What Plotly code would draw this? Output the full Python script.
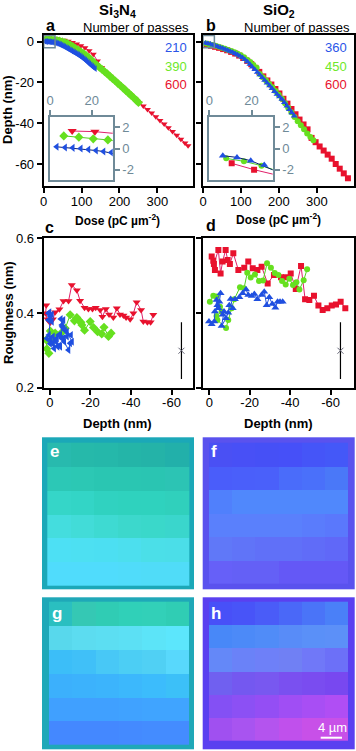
import plotly.graph_objects as go

W, H = 356, 751

# ---------- panel a: Si3N4 depth vs dose ----------
a_blue_dose = [3.2,7.2,10.9,14.7,18.4,22,25.6,29.3,33,36.7,40.4,44,47.7,51.4,55,58.7,62.4,66,69.7,73.4,77,80.7,84.4,88,91.7,95.4,99,102.7,106.4,110,113.7,117.4,121,124.7,128.4,132,135.7]
a_blue_depth = [.16,.09,.06,0,-.09,-.19,-.28,-.37,-.6,-.8,-1.1,-1.4,-1.7,-2.1,-2.4,-2.8,-3.2,-3.6,-4,-4.4,-4.8,-5.2,-5.6,-6,-6.4,-6.9,-7.4,-7.9,-8.4,-9,-9.6,-10.2,-10.8,-11.4,-12,-12.6,-13.2]
a_green_dose = [6.6,13.8,20.7,27.7,35,42,49,56,63,70,77,84,91,98,105,112,119,126,133,140,147,154,161,168,175,182,189,196,203,210,217,224,231,238,245,250]
a_green_depth = [1.19,1.07,.91,.81,.6,.3,0,-.4,-.9,-1.6,-2.4,-3.3,-4.1,-5,-5.8,-6.8,-7.8,-9,-10.3,-11.5,-12.5,-13.6,-14.7,-15.8,-17,-18.2,-19.3,-20.5,-21.6,-22.8,-24,-25.2,-26.4,-27.6,-28.8,-29.8]
a_red_dose = [10.6,21.5,32,43,54,65,76,87,98,109,120,131,142,153,164,175,186,197,208,219,230,241,252,263,274,285,296,307,318,329,340,351,362,373,381]
a_red_depth = [1.65,1.59,1.4,1.1,.7,.2,-.4,-1.1,-2,-3,-4.4,-6.2,-9.5,-12.6,-15.2,-17,-18.9,-20.6,-22.4,-24.3,-26.1,-28,-30,-31.6,-33.3,-35,-36.8,-38.6,-40.4,-42.2,-44,-45.9,-47.8,-49.7,-51]

# ---------- panel b: SiO2 depth vs dose ----------
b_blue_dose = [6.4,13.1,19.6,26,32.5,39,45.5,52,58.5,65,71.5,78,84.5,91,97.5,104,110.5,117,123.5,130,136.5,143,149.5,156,162.5,169,175.5,182,188.5,195,201.5,208,214.5,221,227.5,234,240.5]
b_blue_depth = [-.68,-.84,-1.15,-1.55,-2,-2.4,-2.8,-3.2,-3.7,-4.2,-4.7,-5.2,-5.8,-6.4,-7,-7.7,-8.7,-9.8,-11,-12.4,-13.6,-15,-16.2,-17.6,-18.9,-20.2,-21.6,-23,-24.4,-25.8,-27,-28.2,-29.8,-31.5,-33.2,-34.8,-36.5]
b_green_dose = [8,16.4,24.7,33,41.3,49.6,58,66.3,74.6,83,91.3,99.6,108,116.3,124.6,133,141.3,149.6,158,166.3,174.6,183,191.3,199.6,208,216.3,224.6,233,241.3,249.6,258,266.3,274.6,283,291]
b_green_depth = [-.93,-1.21,-1.62,-2,-2.5,-3,-3.5,-4,-4.6,-5.2,-5.9,-6.6,-7.6,-8.8,-10,-11.4,-12.8,-15.8,-17.4,-19,-20.8,-22.4,-24.2,-26,-28,-30.2,-32.4,-34.6,-36.9,-39,-41,-43,-45,-46.8,-48.4]
b_red_dose = [10.6,21.2,31.8,42.4,53,63.6,74.2,84.8,95.4,106,116.6,127.2,137.8,148.4,159,169.6,180.2,190.8,201.4,212,222.6,233.2,243.8,254.4,265,275.6,286.2,296.8,307.4,318,328.6,339.2,349.8,360.4,371,382]
b_red_depth = [-1.4,-2,-2.5,-3,-3.6,-4.2,-5,-5.8,-6.8,-8,-9.4,-11,-12.8,-14.8,-17,-19,-21,-23.2,-25.4,-28,-30.4,-33,-35.6,-38.2,-40.6,-43,-47.2,-49.3,-51.4,-53.4,-55.4,-57.4,-60,-62.3,-64.6,-67]

# ---------- panel c: Si3N4 roughness vs depth ----------
c_red_depth = [1.8,2.1,1.2,-.1,-1.5,-2.6,-4.7,-6.7,-9.2,-10.8,-13.3,-14.9,-17.1,-19,-21,-22.6,-24.8,-25.9,-27.6,-29.2,-31.3,-33,-34.6,-36.3,-37.6,-39.6,-41.2,-42.8,-45,-46.1,-48.1,-49.7,-51]
c_red_rough = [.421,.399,.383,.374,.383,.402,.41,.432,.432,.475,.461,.433,.414,.411,.411,.414,.408,.39,.411,.396,.388,.413,.396,.393,.388,.383,.399,.429,.408,.377,.375,.375,.395]
c_green_depth = [.5,1.5,1.8,-.2,-1,-2.6,-5.9,-7.6,-10,-12.1,-13.3,-14.1,-15.3,-15.8,-17.1,-19.9,-21.5,-23.5,-25.6,-26.7,-28.9,-30.2]
c_green_rough = [.292,.304,.328,.352,.323,.346,.348,.359,.395,.379,.388,.381,.375,.368,.354,.377,.361,.35,.344,.362,.337,.346]
c_blue_depth = [.2,-1,.7,-.1,.7,-1,-.2,.5,1.5,-.1,-.2,-1.2,-2.1,-2.6,-3.8,-4.8,-5.1,-3.1,-1.5,-3.5,-4.3,-5.1,-6.1,-5.4,-6.7,-5.9,-7.5,-6.8,-8.4,-10.4,-8.4,-10.9,-10,-9.2,-7.1,-6.7,-5.9]
c_blue_rough = [.402,.396,.399,.392,.381,.377,.384,.341,.332,.318,.33,.319,.305,.328,.31,.313,.31,.323,.337,.332,.341,.341,.363,.384,.381,.368,.354,.359,.337,.341,.35,.323,.319,.301,.323,.332,.332]

# ---------- panel d: SiO2 roughness vs depth ----------
d_red_depth = [-1.2,-2,-2.8,-2.3,-4.5,-5.6,-6.6,-8.1,-9.1,-10.2,-11.9,-14.4,-17.3,-19.3,-21.5,-23.8,-25.9,-28.9,-32,-35.5,-38,-40.3,-42.8,-45.4,-47.4,-49.5,-51.8,-54,-56.1,-58.4,-60.6,-62.7,-65,-67.3]
d_red_rough = [.551,.54,.515,.531,.569,.506,.538,.569,.542,.531,.56,.515,.521,.538,.52,.515,.524,.479,.502,.496,.496,.506,.464,.526,.437,.435,.446,.42,.408,.413,.42,.423,.43,.413]
d_green_depth = [-.3,-2,-3.6,-5.3,-6.1,-3.6,-4,-8.3,-9.4,-11.1,-12.4,-15.2,-17.2,-18.8,-20.5,-22.6,-24.6,-26.6,-28.6,-30.5,-32.4,-34.2,-36,-37.8,-39.6,-41.4,-43.1,-44.6,-46.7,-48.4]
d_green_rough = [.43,.446,.444,.417,.404,.392,.381,.36,.381,.4125,.437,.469,.466,.508,.495,.503,.486,.487,.533,.521,.507,.502,.486,.476,.492,.475,.482,.463,.4875,.517]
d_blue_depth = [.15,-1.2,-2.5,-2.8,-4,-3.6,-5.6,-5,-4.5,-6.6,-7.3,-6.1,-8.3,-9.4,-9.9,-11.6,-10.6,-12.7,-14.9,-16.5,-18.2,-19.3,-21,-22.3,-23.8,-25.9,-27.2,-28.4,-29.7,-31.2,-32.7,-33.8,-35,-36.3]
d_blue_rough = [.377,.37,.377,.404,.421,.435,.453,.43,.4125,.395,.404,.365,.386,.401,.421,.4125,.4375,.437,.442,.453,.463,.448,.4455,.451,.437,.448,.457,.421,.442,.424,.414,.43,.43,.43]

err_depth = [-64.9]
err_rough = [.299]
err_size = [.076]

# ---------- tick labels and legends ----------
dose_ticks = [0, 100, 200, 300]
dose_labels = ["0", "100", "200", "300"]
depth_ticks = [0, -20, -40, -60]
depth_labels = ["0", "-20", "-40", "-60"]
rough_ticks = [.2, .4, .6]
rough_labels = ["0.2", "0.4", "0.6"]
inset_x_ticks = [0, 20]
inset_x_labels = ["0", "20"]
inset_y_ticks = [2, 0, -2]
inset_y_labels = ["2", "0", "-2"]
a_passes = ["210", "390", "600"]
b_passes = ["360", "450", "600"]

# ---------- micrograph cells (top row first) ----------
frame_e = "#1ba8b8"
frame_f = "#5a52ee"
frame_g = "#1fa8b8"
frame_h = "#5a40f0"
cells_e = [["#28baae","#26b9aa","#25b8aa","#24b5a8","#24b3a8","#22b0aa"],
           ["#2cc8b6","#2cc8b4","#2ac6b2","#2ac6b2","#2ac5b2","#2cc4b4"],
           ["#35d6c8","#33d5c6","#30d2c0","#2fd2be","#2fd2be","#30d0bc"],
           ["#44ddde","#42dcd8","#3edad2","#3cd8cc","#3ad8ca","#3ad6cc"],
           ["#4de0f4","#4de0f2","#4cdff2","#4cdfee","#4bdfe8","#4bdee8"],
           ["#50dcfc","#50dcfc","#50dcfc","#50dcfa","#50dcf8","#50dcf8"]]
cells_f = [["#4a50f4","#4850f6","#4650f6","#4650f8","#4555f8","#4458f8"],
           ["#4a5dfa","#4a5ffa","#4a60fa","#4a6cfa","#4a70fa","#4a78f8"],
           ["#5080fc","#5088fc","#5088fc","#5088fc","#5088fc","#5088fc"],
           ["#5a80fc","#5a80fc","#5a80fc","#5a80fc","#5a7cfc","#5a78fc"],
           ["#6078f8","#6074f8","#6070f8","#6070f8","#606cf8","#6068f8"],
           ["#6660f8","#6460f6","#6460f6","#6458f6","#6458f6","#6458f6"]]
cells_g = [["#2abfc0","#35c8b4","#30ccb4","#30d0b8","#32d0b8","#30cdb4"],
           ["#58d8ec","#5cdcf0","#5cdef2","#5ce0f4","#5ce4f8","#5ce6fc"],
           ["#3cbef8","#40c0f8","#48c8f6","#4ccef4","#50d0f4","#58d8fc"],
           ["#3cb0fc","#3cb2fc","#3cb4fc","#3cb8fc","#3cbcfc","#3cc0f8"],
           ["#40a0ff","#40a0ff","#40a0ff","#40a2ff","#40a4ff","#40a4ff"],
           ["#4488ff","#4488ff","#4488ff","#448aff","#448cff","#448cff"]]
cells_h = [["#4850f8","#4854f8","#4a5cf8","#4a68f8","#4a74f8","#4a80f8"],
           ["#4888f8","#4c8af8","#508cf8","#588cf8","#5a90f8","#5c90f8"],
           ["#6488f8","#6a82f8","#6e80f8","#7080f4","#7078f8","#6c70f8"],
           ["#7060f0","#7458f0","#7858f0","#7a50f0","#7a4cf0","#7848f0"],
           ["#8450f4","#8c50f4","#944ef4","#a04ef4","#a84ef4","#b04ef4"],
           ["#a050f0","#a854f0","#b454ee","#c050ec","#c850e8","#c850e8"]]

RED, GREEN, BLUE = "#e8112d", "#66e01f", "#1f4fe0"
REDL, GREENL, BLUEL = "#e0206a", "#50d020", "#0a1f70"
SLATE = "#6f8a98"
FONT = "Liberation Sans"


def dx(l, r):
    return [l / W, r / W]


def dy(t, b):
    return [1 - b / H, 1 - t / H]


def rgb(c):
    return [int(c[1:3], 16), int(c[3:5], 16), int(c[5:7], 16)]


fig = go.Figure()
layout = {}

main_axis = dict(showline=True, linewidth=2, linecolor="black", mirror=True, ticks="outside",
                 ticklen=5, tickwidth=1.5, tickcolor="black", showgrid=False, zeroline=False,
                 tickfont=dict(size=13, color="black", family=FONT))
inset_axis = dict(showline=True, linewidth=2, linecolor=SLATE, mirror=True, ticks="outside",
                  ticklen=5, tickwidth=1.5, tickcolor=SLATE, showgrid=False, zeroline=False,
                  tickfont=dict(size=13, color=SLATE, family=FONT))


def axes(i, xdom, ydom, xrange, yrange, xt, xl, yt, yl, style, xside="bottom", yside="left", showy=True, standoff=0):
    s = "" if i == 1 else str(i)
    layout["xaxis" + s] = dict(style, domain=xdom, range=xrange, tickmode="array", tickvals=xt, ticktext=xl,
                               side=xside, anchor="y" + s, ticklabelstandoff=standoff)
    layout["yaxis" + s] = dict(style, domain=ydom, range=yrange, tickmode="array", tickvals=yt, ticktext=yl,
                               side=yside, anchor="x" + s, showticklabels=showy)


def series(i, x, y, sym, col, line, size=6, lw=1):
    s = "" if i == 1 else str(i)
    fig.add_trace(go.Scatter(x=x, y=y, xaxis="x" + s, yaxis="y" + s, mode="lines+markers",
                             line=dict(color=line, width=lw),
                             marker=dict(symbol=sym, size=size, color=col, line=dict(width=0)),
                             showlegend=False, hoverinfo="skip"))


axes(1, dx(43.7, 193), dy(35, 186), [0, 394], [-70.8, 3.3], dose_ticks, dose_labels, depth_ticks, depth_labels, main_axis, standoff=-3)
axes(2, dx(203, 354), dy(35, 186), [0, 398], [-70.8, 3.3], dose_ticks, dose_labels, depth_ticks, depth_labels, main_axis, showy=False, standoff=-3)
axes(3, dx(43.7, 193), dy(238.3, 387.7), [3.05, -70.6], [.2, .6], depth_ticks, depth_labels, rough_ticks, rough_labels, main_axis, standoff=-3)
axes(4, dx(203, 354), dy(238.3, 387.7), [3.1, -71.6], [.2, .6], depth_ticks, depth_labels, rough_ticks, rough_labels, main_axis, showy=False, standoff=-3)
axes(5, dx(50, 112.7), dy(116.7, 180.3), [0, 30], [-3, 3], inset_x_ticks, inset_x_labels, inset_y_ticks, inset_y_labels, inset_axis, "top", "right")
axes(6, dx(209.3, 272.7), dy(116.7, 180.3), [0, 30], [-3, 3], inset_x_ticks, inset_x_labels, inset_y_ticks, inset_y_labels, inset_axis, "top", "right")
# pixel-scale axes that carry the four micrographs
layout["xaxis7"] = dict(domain=[0, 1], range=[0, W], visible=False, anchor="y7")
layout["yaxis7"] = dict(domain=[0, 1], range=[H, 0], visible=False, anchor="x7")

TRI_L, DIA, TRI_D, TRI_U, CIR, SQ = "triangle-left", "diamond", "triangle-down", "triangle-up", "circle", "square"
for i in (1, 5):
    series(i, a_red_dose, a_red_depth, TRI_D, RED, REDL, 6 if i == 1 else 8)
    series(i, a_green_dose, a_green_depth, DIA, GREEN, GREENL, 7)
    series(i, a_blue_dose, a_blue_depth, TRI_L, BLUE, BLUEL, 6 if i == 1 else 7)
for i in (2, 6):
    series(i, b_red_dose, b_red_depth, SQ, RED, REDL, 6)
    series(i, b_green_dose, b_green_depth, CIR, GREEN, GREENL, 6)
    series(i, b_blue_dose, b_blue_depth, TRI_U, BLUE, BLUEL, 6 if i == 2 else 7)

series(3, c_red_depth, c_red_rough, TRI_D, RED, REDL, 7)
series(3, c_green_depth, c_green_rough, DIA, GREEN, GREENL, 7)
series(3, c_blue_depth, c_blue_rough, TRI_L, BLUE, BLUE, 7)
series(4, d_red_depth, d_red_rough, SQ, RED, REDL, 6)
series(4, d_green_depth, d_green_rough, CIR, GREEN, GREENL, 6)
series(4, d_blue_depth, d_blue_rough, TRI_U, BLUE, BLUE, 7)

for s in ("3", "4"):
    fig.add_trace(go.Scatter(x=err_depth, y=err_rough, xaxis="x" + s, yaxis="y" + s, mode="markers",
                             marker=dict(symbol="x-thin", size=6, color="#778", line=dict(width=1, color="#667")),
                             error_y=dict(type="data", array=err_size, color="black", thickness=1.2, width=0),
                             showlegend=False, hoverinfo="skip"))

# micrographs
panels = [
    (frame_e, cells_e, (42, 437.3, 194, 589), (47.3, 442.7, 189, 585.7)),
    (frame_f, cells_f, (202.7, 437.3, 354.3, 589), (209, 442.7, 348.3, 584)),
    (frame_g, cells_g, (42, 597.3, 194, 749), (49, 601.7, 189, 745)),
    (frame_h, cells_h, (202.7, 597.3, 354.3, 749), (209, 601.7, 348.3, 741)),
]
for frame, cells, o, n in panels:
    fig.add_trace(go.Image(z=[[rgb(frame)]], x0=(o[0] + o[2]) / 2, y0=(o[1] + o[3]) / 2,
                           dx=o[2] - o[0], dy=o[3] - o[1], xaxis="x7", yaxis="y7", hoverinfo="skip"))
    cw, ch = (n[2] - n[0]) / 6, (n[3] - n[1]) / 6
    fig.add_trace(go.Image(z=[[rgb(c) for c in row] for row in cells], x0=n[0] + cw / 2, y0=n[1] + ch / 2,
                           dx=cw, dy=ch, xaxis="x7", yaxis="y7", hoverinfo="skip"))

ann = []


def text(x, y, t, size=13, color="black", bold=False, angle=0, anchor="center"):
    ann.append(dict(x=x / W, y=1 - y / H, xref="paper", yref="paper", text=f"<b>{t}</b>" if bold else t,
                    showarrow=False, xanchor=anchor, yanchor="middle", textangle=angle,
                    font=dict(size=size, color=color, family=FONT)))


text(118, 10, "Si<sub>3</sub>N<sub>4</sub>", 15, bold=True)
text(279, 10, "SiO<sub>2</sub>", 15, bold=True)
text(50, 26, "a", 16, bold=True)
text(211, 26, "b", 16, bold=True)
text(49, 227, "c", 16, bold=True)
text(211, 226, "d", 16, bold=True)
text(136, 27, "Number of passes", 13)
text(297, 27, "Number of passes", 13)
for k, (lab, col) in enumerate(zip(a_passes, ["#2a55e8", "#6ee82a", RED])):
    text(176, 48 + 18.3 * k, lab, 13, col)
for k, (lab, col) in enumerate(zip(b_passes, ["#2a55e8", "#6ee82a", RED])):
    text(336, 48 + 18.3 * k, lab, 13, col)
text(118, 220, "Dose (pC µm<sup>-2</sup>)", 12, bold=True)
text(278, 219, "Dose (pC µm<sup>-2</sup>)", 12, bold=True)
text(118, 423, "Depth (nm)", 13, bold=True)
text(278, 423, "Depth (nm)", 13, bold=True)
text(8, 110, "Depth (nm)", 13, bold=True, angle=-90)
text(8, 313, "Roughness (nm)", 13, bold=True, angle=-90)
for lab, x, y in [("e", 55, 452), ("f", 214, 452), ("g", 57, 613), ("h", 216, 613)]:
    text(x, y, lab, 17, "white", True)
text(332, 727, "4 µm", 13, "white")

shapes = [
    dict(type="rect", xref="x", yref="y", x0=0, x1=30, y0=3, y1=-3, line=dict(color=SLATE, width=1.5)),
    dict(type="rect", xref="x2", yref="y2", x0=0, x1=30, y0=3, y1=-3, line=dict(color=SLATE, width=1.5)),
    dict(type="line", xref="x7", yref="y7", x0=320.7, x1=342, y0=737.7, y1=737.7, line=dict(color="white", width=2)),
]

fig.update_layout(width=W, height=H, margin=dict(l=0, r=0, t=0, b=0, pad=0, autoexpand=False), paper_bgcolor="white",
                  plot_bgcolor="rgba(0,0,0,0)", showlegend=False, annotations=ann, shapes=shapes, **layout)
fig.write_html("out.html", config=dict(displayModeBar=False),
               post_script="document.body.style.margin='0';")
